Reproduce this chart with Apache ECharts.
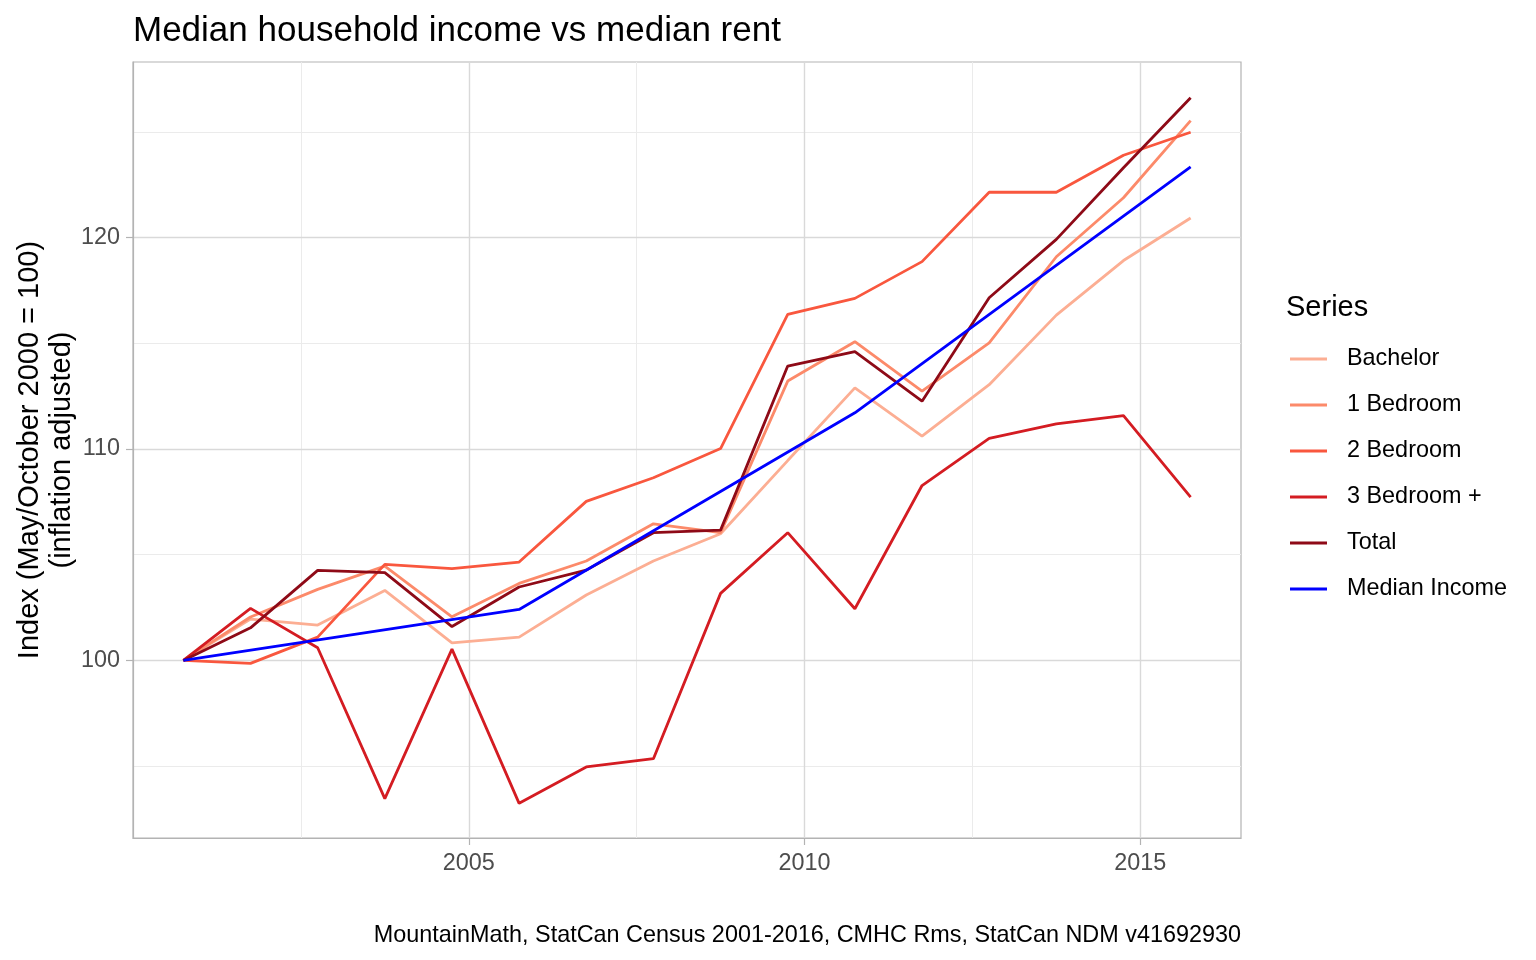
<!DOCTYPE html>
<html>
<head>
<meta charset="utf-8">
<script src="https://cdn.jsdelivr.net/npm/echarts@6/dist/echarts.min.js"></script>
<style>
html,body{margin:0;padding:0;background:#fff;}
#chart{width:1536px;height:960px;}
</style>
</head>
<body>
<div id="chart"></div>
<script>
// October 1 of each year, as decimal years
const years = [2000.75, 2001.75, 2002.75, 2003.75, 2004.75, 2005.75, 2006.75, 2007.75,
               2008.75, 2009.75, 2010.75, 2011.75, 2012.75, 2013.75, 2014.75, 2015.75];
const seriesNames = ['Bachelor', '1 Bedroom', '2 Bedroom', '3 Bedroom +', 'Total', 'Median Income'];
const bachelor = [100, 101.95, 101.67, 103.31, 100.83, 101.10, 103.09, 104.70, 105.99, 109.45, 112.89, 110.61, 113.04, 116.33, 118.91, 120.92];
const bed1     = [100, 102.05, 103.36, 104.46, 102.06, 103.64, 104.70, 106.46, 106.04, 113.21, 115.07, 112.73, 115.02, 119.09, 121.88, 125.53];
const bed2     = [100, 99.86, 101.10, 104.54, 104.34, 104.65, 107.52, 108.64, 110.02, 116.36, 117.12, 118.86, 122.14, 122.14, 123.89, 124.98];
const bed3     = [100, 102.46, 100.60, 93.46, 100.53, 93.24, 94.96, 95.35, 103.17, 106.04, 102.44, 108.27, 110.50, 111.19, 111.58, 107.72];
const total    = [100, 101.54, 104.26, 104.15, 101.60, 103.47, 104.27, 106.04, 106.16, 113.92, 114.60, 112.26, 117.15, 119.91, 123.30, 126.61];
const incomeYears = [2000.75, 2005.75, 2010.75, 2015.75];
const income      = [100, 102.41, 111.71, 123.34];
const xTickLabels = [2005, 2010, 2015];
const yTickLabels = [100, 110, 120];
const xMinorBreaks = [2002.5, 2007.5, 2012.5];
const yMinorBreaks = [95, 105, 115, 125];

const colors = ['#FCAE93', '#FC8A6A', '#F9573E', '#D41C22', '#8E0A17', '#0000FF'];
const FONT = 'Liberation Sans, Arial, Helvetica, sans-serif';
const X_MIN = 2000, X_MAX = 2016.5, Y_MIN = 91.6, Y_MAX = 128.3;

function zip(xs, ys) { return xs.map((x, i) => [x, ys[i]]); }
const rentValues = [bachelor, bed1, bed2, bed3, total];

const series = rentValues.map((vals, k) => ({
  name: seriesNames[k], type: 'line', data: zip(years, vals),
  xAxisIndex: 0, yAxisIndex: 0,
  showSymbol: false, symbol: 'none',
  lineStyle: { color: colors[k], width: 2.8 },
  itemStyle: { color: colors[k] }
}));
series.push({
  name: seriesNames[5], type: 'line', data: zip(incomeYears, income),
  xAxisIndex: 0, yAxisIndex: 0,
  showSymbol: false, symbol: 'none',
  lineStyle: { color: colors[5], width: 2.8 },
  itemStyle: { color: colors[5] }
});

const MAJOR = '#d9d9d9', MINOR = '#ebebeb';

function minorAxis(min, max, breaks) {
  return {
    type: 'value', min: min, max: max, show: true,
    axisLine: { show: false }, axisLabel: { show: false },
    axisTick: { show: false, customValues: breaks },
    splitLine: { show: true, lineStyle: { color: MINOR, width: 1 } }
  };
}

const chart = echarts.init(document.getElementById('chart'), null, { renderer: 'canvas' });
chart.setOption({
  animation: false,
  backgroundColor: '#ffffff',
  textStyle: { fontFamily: FONT },
  title: [
    { text: 'Median household income vs median rent', left: 128, top: 9,
      textStyle: { fontSize: 35, fontWeight: 'normal', color: '#000', fontFamily: FONT } },
    { text: 'Series', left: 1281, top: 288,
      textStyle: { fontSize: 29, fontWeight: 'normal', color: '#000', fontFamily: FONT } },
    { text: 'MountainMath, StatCan Census 2001-2016, CMHC Rms, StatCan NDM v41692930', right: 290, top: 919,
      textStyle: { fontSize: 23.4, fontWeight: 'normal', color: '#000', fontFamily: FONT } }
  ],
  legend: {
    orient: 'vertical', left: 1285, top: 331,
    itemWidth: 37, itemHeight: 3, itemGap: 0, icon: 'rect',
    data: seriesNames,
    textStyle: { fontSize: 23.4, color: '#000', lineHeight: 46, padding: [0, 0, 0, 15], fontFamily: FONT }
  },
  grid: { left: 133, right: 295, top: 62, bottom: 122, show: true, borderColor: '#b3b3b3', borderWidth: 1.2, backgroundColor: 'transparent' },
  xAxis: [
    {
      type: 'value', min: X_MIN, max: X_MAX, position: 'bottom', z: 3,
      axisLine: { show: true, lineStyle: { color: '#b3b3b3', width: 1.2 } },
      axisTick: { show: true, customValues: xTickLabels, length: 7, lineStyle: { color: '#b3b3b3', width: 1.2 } },
      axisLabel: { customValues: xTickLabels, fontSize: 23.4, color: '#4d4d4d', margin: 14, fontFamily: FONT,
                   formatter: v => String(Math.round(v)) },
      splitLine: { show: true, lineStyle: { color: MAJOR, width: 1.4 } }
    },
    Object.assign(minorAxis(X_MIN, X_MAX, xMinorBreaks), { position: 'top', z: 1 })
  ],
  yAxis: [
    {
      type: 'value', min: Y_MIN, max: Y_MAX, position: 'left', z: 3,
      name: 'Index (May/October 2000 = 100)\n(inflation adjusted)',
      nameLocation: 'middle', nameRotate: 90, nameGap: 55, nameMoveOverlap: false,
      nameTextStyle: { fontSize: 29, color: '#000', lineHeight: 32, fontFamily: FONT, align: 'center' },
      axisLine: { show: true, lineStyle: { color: '#b3b3b3', width: 1.2 } },
      axisTick: { show: true, customValues: yTickLabels, length: 7, lineStyle: { color: '#b3b3b3', width: 1.2 } },
      axisLabel: { customValues: yTickLabels, fontSize: 23.4, color: '#4d4d4d', margin: 13, fontFamily: FONT,
                   formatter: v => String(Math.round(v)) },
      splitLine: { show: true, lineStyle: { color: MAJOR, width: 1.4 } }
    },
    Object.assign(minorAxis(Y_MIN, Y_MAX, yMinorBreaks), { position: 'right', z: 1 })
  ],
  series: series
});
</script>
</body>
</html>
